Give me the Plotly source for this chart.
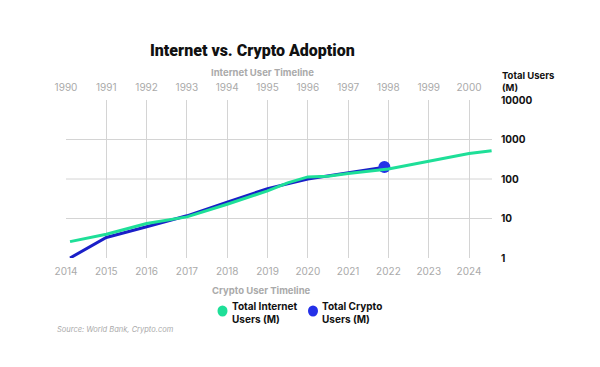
import plotly.graph_objects as go

# Internet users (M), internet timeline years (top axis 1990-2000)
internet_years = [1990.1, 1991.0, 1992.0, 1992.5, 1993.0, 1994.0, 1995.0, 1995.5, 1996.0, 1996.5,
                  1997.0, 1998.0, 1999.0, 2000.0, 2000.56]
internet_users = [2.6, 4.0, 7.5, 9.1, 11, 23, 50, 80, 113, 118, 138, 180, 287, 440, 520]

# Crypto users (M), crypto timeline years (bottom axis 2014-2024)
crypto_years = [2014.1, 2015.0, 2016.0, 2017.0, 2018.0, 2019.0, 2020.0, 2021.0, 2021.9]
crypto_users = [1.0, 3.3, 6.2, 11.7, 26, 57, 100, 142, 200]

crypto_ticks = list(range(2014, 2025))
internet_ticks = list(range(1990, 2001))
y_ticks = [1, 10, 100, 1000, 10000]
y_tick_labels = ["1", "10", "100", "1000", "10000"]

legend_names = ["Total Internet<br>Users (M)", "Total Crypto<br>Users (M)"]

GREEN = "#1edf98"
BLUE = "#1a1fc8"
BLUE_DOT = "#2430e8"
FONT = "Inter"

L, R, T, B = 66, 492, 100, 258
PW, PH = R - L, B - T


def px(x):
    return (x - L) / PW


def py(y):
    return (B - y) / PH


fig = go.Figure()

fig.add_trace(go.Scatter(x=internet_years, y=internet_users, mode="lines", xaxis="x2", yaxis="y",
                         line=dict(color=GREEN, width=3), showlegend=False, hoverinfo="skip"))
fig.add_trace(go.Scatter(x=crypto_years, y=crypto_users, mode="lines",
                         line=dict(color=BLUE, width=3), showlegend=False))
fig.add_trace(go.Scatter(x=[crypto_years[-1]], y=[crypto_users[-1]], mode="markers",
                         marker=dict(color=BLUE_DOT, size=12), showlegend=False))

shapes = [dict(type="line", xref="paper", x0=0, x1=1, yref="y", y0=v, y1=v,
               line=dict(color="#d4d4d4", width=1), layer="below") for v in [10, 100, 1000]]

annotations = [
    dict(text="Internet vs. Crypto Adoption", xref="paper", yref="paper",
         x=px(252), y=py(50), xanchor="center", yanchor="middle",
         showarrow=False, font=dict(family="Roboto", size=16, color="#111111", weight=900)),
    dict(text="Internet User Timeline", xref="paper", yref="paper",
         x=px(262), y=py(72), xanchor="center", yanchor="middle",
         showarrow=False, font=dict(family=FONT, size=9.5, color="#aaaaaa", weight="bold")),
    dict(text="Crypto User Timeline", xref="paper", yref="paper",
         x=px(261), y=py(290), xanchor="center", yanchor="middle",
         showarrow=False, font=dict(family=FONT, size=9.5, color="#aaaaaa", weight="bold")),
    dict(text="<b>Total Users<br>(M)</b>", xref="paper", yref="paper", align="left",
         x=px(500), y=py(81), xanchor="left", yanchor="middle",
         showarrow=False, font=dict(family=FONT, size=9.5, color="#111111")),
    dict(text="<i>Source: World Bank, Crypto.com</i>", xref="paper", yref="paper",
         x=px(55), y=py(329), xanchor="left", yanchor="middle",
         showarrow=False, font=dict(family=FONT, size=7.5, color="#aaaaaa")),
]

# manual legend
for name, color, cx in zip(legend_names, [GREEN, BLUE_DOT], [222.5, 313]):
    shapes.append(dict(type="circle", xref="paper", yref="paper",
                       x0=px(cx - 5), x1=px(cx + 5), y0=py(311 + 5.5), y1=py(311 - 5.5),
                       fillcolor=color, line=dict(width=0)))
    annotations.append(dict(text="<b>" + name + "</b>", xref="paper", yref="paper", align="left",
                            x=px(cx + 7), y=py(312.5), xanchor="left", yanchor="middle",
                            showarrow=False,
                            font=dict(family=FONT, size=10, color="#111111")))

fig.update_layout(
    width=600, height=367,
    margin=dict(l=L, r=600 - R, t=T, b=367 - B, autoexpand=False),
    paper_bgcolor="white", plot_bgcolor="white",
    font=dict(family=FONT, color="#aaaaaa", size=10),
    showlegend=False,
    xaxis=dict(range=[2014, 2024.57], tickvals=crypto_ticks, ticktext=[str(t) for t in crypto_ticks],
               showgrid=True, gridcolor="#d4d4d4", gridwidth=1, zeroline=False, showline=False,
               ticks="", tickfont=dict(size=10, color="#aaaaaa"), ticklabelstandoff=6,
               automargin=False),
    xaxis2=dict(range=[1990, 2000.57], overlaying="x", side="top",
                tickvals=internet_ticks, ticktext=[str(t) for t in internet_ticks],
                showgrid=False, zeroline=False, showline=False, ticks="",
                tickfont=dict(size=10, color="#aaaaaa"), ticklabelstandoff=6, automargin=False),
    yaxis=dict(type="log", range=[0, 4], side="right", tickvals=y_ticks, ticktext=y_tick_labels,
               showgrid=False, zeroline=False, showline=False, ticks="",
               tickfont=dict(size=10, color="#111111", weight="bold"), ticklabelstandoff=8,
               automargin=False),
    shapes=shapes,
    annotations=annotations,
)

fig.write_html("out.html", config={"displayModeBar": False},
               post_script="document.body.style.margin='0';")
